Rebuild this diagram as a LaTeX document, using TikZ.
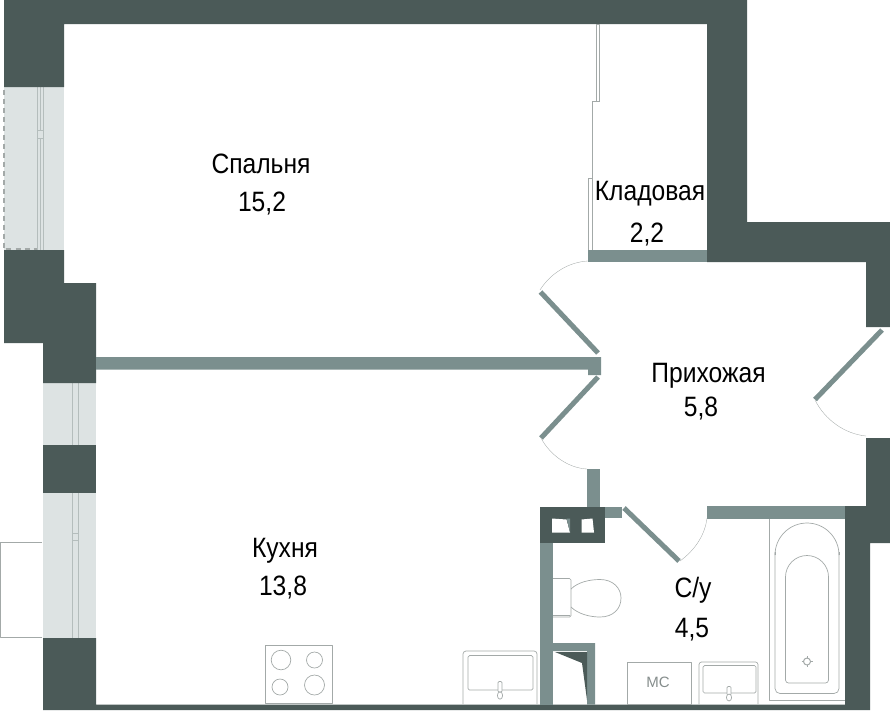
\documentclass[tikz,border=0pt]{standalone}
\usepackage{fontspec}
\usepackage{graphicx}
\setmainfont{Liberation Sans}
\definecolor{walld}{HTML}{4B5A58}
\definecolor{wallt}{HTML}{7B8F8E}
\definecolor{glass}{HTML}{DDE3E3}
\definecolor{frameg}{HTML}{B4BDBC}
\definecolor{thing}{HTML}{A3A9A8}
\definecolor{mctext}{HTML}{858D8C}
\newcommand{\roomtext}[1]{\scalebox{.88}[1]{#1}}
\tikzset{
  dark/.style={fill=walld,draw=none},
  teal/.style={fill=wallt,draw=none},
  win/.style={fill=glass,draw=none},
  frame/.style={draw=frameg,line width=.7pt,fill=glass},
  fix/.style={draw=thing,line width=.7pt,line join=round},
  leaf/.style={draw=wallt,line width=5pt},
  swing/.style={draw=thing,line width=.35pt},
  room/.style={font=\fontsize{28}{30}\selectfont,text=black,inner sep=0pt,anchor=base}
}
\begin{document}
\begin{tikzpicture}[x=1pt,y=-1pt]
\useasboundingbox (0,0) rectangle (890,710);
% windows
\fill[win] (4,84) rectangle (64,250);
\fill[win] (43,383) rectangle (96,445);
\fill[win] (43,491) rectangle (96,638);
% balcony
\draw[fix] (42,542.5) -- (0.7,542.5) -- (0.7,637) -- (42,637);
% dashed
\draw[draw=thing,line width=1.2pt,dash pattern=on 5pt off 4pt] (37,86.5) -- (4,86.5) -- (4,249) -- (37,249);
% frames
\draw[frame] (37.5,84) rectangle (43.5,253);
\draw[frameg,line width=.6pt] (40.5,84) -- (40.5,130) (40.5,138) -- (40.5,253) (37.5,130) -- (43.5,130) (37.5,138) -- (43.5,138);
\draw[frame] (72.5,382) rectangle (78,446);
\draw[frame] (72.5,491) rectangle (78,641);
\draw[frameg,line width=.6pt] (72.5,533) -- (78,533) (72.5,540) -- (78,540);
% dark walls
\fill[dark] (4,0) -- (747,0) -- (747,222) -- (890,222) -- (890,327) -- (866,327) -- (866,262) -- (707,262) -- (707,24) -- (64,24) -- (64,87) -- (4,87) -- cycle;
\fill[dark] (4,250) -- (64,250) -- (64,283) -- (96,283) -- (96,383) -- (43,383) -- (43,343) -- (4,343) -- cycle;
\fill[dark] (43,445) rectangle (96,493);
\fill[dark] (43,638) -- (96,638) -- (96,704.5) -- (845,704.5) -- (845,506) -- (866,506) -- (866,438) -- (890,438) -- (890,543) -- (870,543) -- (870,710) -- (43,710) -- cycle;
% teal walls
\fill[teal] (588,250) rectangle (706.5,262);
\fill[teal] (96,357) -- (601,357) -- (601,375) -- (588,375) -- (588,369.5) -- (96,369.5) -- cycle;
\fill[teal] (587,469) rectangle (599.5,507);
\fill[teal] (605,507) rectangle (622,518);
\fill[teal] (707,506) rectangle (845,519);
\fill[teal] (540,543) rectangle (553,704.5);
\fill[teal] (553,643) -- (595,643) -- (595,704.5) -- (587,704.5) -- (587,651) -- (553,651) -- cycle;
% shaft
\fill[dark] (540,507) rectangle (605,543);
\fill[white] (552,518.5) -- (566.5,519.5) -- (570,532.5) -- (552,532.5) -- cycle;
\fill[teal] (566.5,518.5) -- (570,518.5) -- (570,532.5) -- cycle;
\fill[white] (581.5,519.5) -- (592.5,518.5) -- (594,532.5) -- (581.5,532.5) -- cycle;
\fill[dark] (555,652) -- (587,652) -- (587,700) -- (582,663) -- cycle;
% doors
\draw[leaf] (540.5,292) -- (598,353);
\draw[leaf] (598,377) -- (541,438);
\draw[leaf] (624,508) -- (679,561);
\draw[leaf] (882,330) -- (815,399.5);
\draw[swing] (540,290) .. controls (550,274) and (568,262) .. (588,261);
\draw[swing] (541,438) .. controls (550,455) and (568,468) .. (587,469);
\draw[swing] (680,561) .. controls (695,550) and (705,535) .. (707,518);
\draw[swing] (815,400) .. controls (825,420) and (845,434) .. (866,436);
% closet sliding door
\draw[fix] (596,24) -- (596,101) -- (599.5,101) -- (599.5,24) -- cycle;
\draw[fix] (599.5,101) -- (592,101) -- (592,250);
\draw[fix] (592,178) -- (588,178) -- (588,250);
% hob
\draw[fix] (265,645) rectangle (332,703);
\draw[fix] (281,660) circle[radius=9.8];
\draw[fix] (314.5,660) circle[radius=8];
\draw[fix] (280,687) circle[radius=8];
\draw[fix] (314.5,685) circle[radius=10];
% kitchen sink
\draw[fix,rounded corners=3pt] (463,704) -- (463,651) -- (537,651) -- (537,704);
\draw[fix,rounded corners=1.5pt] (468,655.5) rectangle (533,690);
\draw[fix,fill=white,rounded corners=1pt] (498,681.5) rectangle (502,692);
\draw[fix,fill=white] (500,695.5) ellipse[x radius=2.6,y radius=3.7];
% toilet
\draw[fix,rounded corners=1.5pt] (553,578.5) -- (571,578.5) -- (571,617) -- (553,617);
\draw[fix] (553,615) -- (570,615);
\draw[fix] (571,589) .. controls (578,582) and (590,579.5) .. (600,579.5) .. controls (613,579.5) and (621,588) .. (621,598) .. controls (621,609) and (613,617) .. (600,617) .. controls (590,617) and (578,614) .. (571,607);
% MC
\draw[fix] (627,662) rectangle (691,704);
\node[text=mctext,font=\fontsize{15}{17}\selectfont,inner sep=0pt,anchor=base] (mc) at (658,687) {МС};
% second sink
\draw[fix,rounded corners=2.5pt] (699,704) -- (699,662) -- (758,662) -- (758,704);
\draw[fix,rounded corners=1.5pt] (703,665.5) rectangle (756,693);
\draw[fix,fill=white,rounded corners=1pt] (727,686.5) rectangle (731,695);
\draw[fix,fill=white] (729,697.5) ellipse[x radius=2.6,y radius=3.5];
% bath
\draw[fix] (769,519) -- (769,700) -- (845,700);
\draw[fix,rounded corners=5pt] (775,552) -- (775,693.5) -- (839,693.5) -- (839,552);
\draw[fix] (775,555) arc[start angle=180,end angle=360,radius=32];
\draw[fix] (775,552) -- (775,555) (839,552) -- (839,555);
\draw[fix,rounded corners=3pt] (785.5,577) -- (785.5,683) -- (828.5,683) -- (828.5,577);
\draw[fix] (785.5,577) arc[start angle=180,end angle=360,radius=21.5];
\draw[fix,line width=1pt] (807,661.5) circle[radius=3.5];
\draw[fix] (807,656) -- (807,658) (807,665) -- (807,667) (801.5,661.5) -- (803.5,661.5) (810.5,661.5) -- (812.5,661.5);
% labels
\node[room] (bedroom) at (261,173) {\roomtext{Спальня}};
\node[room] (bedroomarea) at (262,211) {\roomtext{15,2}};
\node[room] (storage) at (650,200) {\roomtext{Кладовая}};
\node[room] (storagearea) at (647,242) {\roomtext{2,2}};
\node[room] (hall) at (708.5,382) {\roomtext{Прихожая}};
\node[room] (hallarea) at (701,416) {\roomtext{5,8}};
\node[room] (kitchen) at (285,557) {\roomtext{Кухня}};
\node[room] (kitchenarea) at (283,595) {\roomtext{13,8}};
\node[room] (bath) at (693,597) {\roomtext{С/у}};
\node[room] (batharea) at (692,637) {\roomtext{4,5}};
\end{tikzpicture}
\end{document}
